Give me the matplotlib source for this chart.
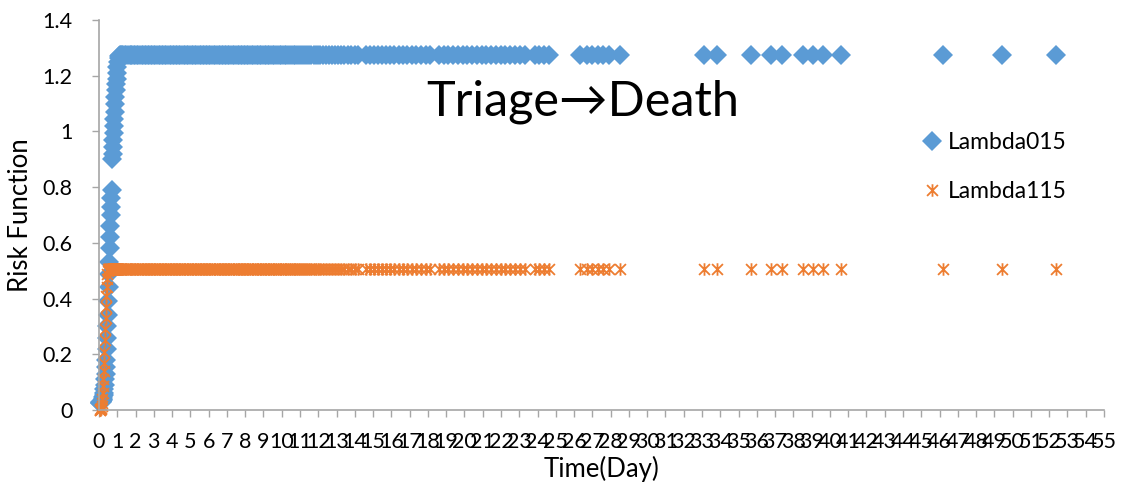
import matplotlib
matplotlib.use("Agg")
import matplotlib.pyplot as plt
from matplotlib.path import Path

plt.rcParams["font.family"] = ["Lato", "DejaVu Sans"]

# Rising part of both curves (shared time points, days)
rise_time = [0.04, 0.06, 0.08, 0.10, 0.12, 0.14, 0.16, 0.18, 0.20, 0.22, 0.24,
             0.26, 0.28, 0.30, 0.32, 0.34, 0.36, 0.38, 0.40, 0.42, 0.44, 0.46,
             0.48, 0.50, 0.52, 0.54, 0.56, 0.58, 0.60, 0.62, 0.64, 0.66, 0.68,
             0.70, 0.72, 0.74, 0.76, 0.78, 0.80, 0.82, 0.84, 0.86, 0.88, 0.90,
             0.92, 0.94, 0.96, 0.98, 1.00, 1.04, 1.08, 1.12, 1.16, 1.20]
rise_lambda015 = [0.025, 0.026, 0.027, 0.028, 0.029, 0.03, 0.032, 0.034, 0.037,
                  0.041, 0.046, 0.053, 0.062, 0.075, 0.09, 0.11, 0.13, 0.155,
                  0.18, 0.22, 0.26, 0.3, 0.34, 0.39, 0.44, 0.49, 0.53, 0.58,
                  0.62, 0.66, 0.7, 0.73, 0.76, 0.79, 0.9, 0.92, 0.945, 0.97,
                  0.995, 1.02, 1.045, 1.07, 1.1, 1.125, 1.15, 1.17, 1.19, 1.21,
                  1.23, 1.25, 1.262, 1.27, 1.274, 1.275]
rise_lambda115 = [0.0, 0.0, 0.003, 0.005, 0.008, 0.015, 0.025, 0.04, 0.06, 0.085,
                  0.11, 0.14, 0.17, 0.21, 0.25, 0.29, 0.33, 0.37, 0.41, 0.44,
                  0.47, 0.49, 0.5, 0.505, 0.505, 0.505, 0.505, 0.505, 0.505,
                  0.505, 0.505, 0.505, 0.505, 0.505, 0.505, 0.505, 0.505, 0.505,
                  0.505, 0.505, 0.505, 0.505, 0.505, 0.505, 0.505, 0.505, 0.505,
                  0.505, 0.505, 0.505, 0.505, 0.505, 0.505, 0.505]

# Event times after both curves have levelled off
plateau_time = [1.26, 1.33, 1.41, 1.5, 1.58, 1.67, 1.75, 1.82, 1.9, 1.99, 2.08,
                2.16, 2.25, 2.33, 2.41, 2.5, 2.59, 2.67, 2.74, 2.83, 2.92, 3.0,
                3.09, 3.17, 3.26, 3.35, 3.43, 3.52, 3.6, 3.68, 3.77, 3.86, 3.94,
                4.03, 4.12, 4.2, 4.29, 4.37, 4.46, 4.55, 4.63, 4.72, 4.8, 4.89,
                4.98, 5.07, 5.15, 5.24, 5.33, 5.41, 5.5, 5.58, 5.67, 5.76, 5.85,
                5.93, 6.02, 6.1, 6.19, 6.28, 6.36, 6.45, 6.54, 6.62, 6.71, 6.8,
                6.88, 6.97, 7.06, 7.14, 7.23, 7.32, 7.4, 7.49, 7.58, 7.66, 7.75,
                7.84, 7.92, 8.01, 8.1, 8.18, 8.27, 8.36, 8.45, 8.53, 8.62, 8.71,
                8.8, 8.88, 8.97, 9.06, 9.15, 9.24, 9.33, 9.42, 9.51, 9.6, 9.7,
                9.79, 9.88, 9.97, 10.07, 10.16, 10.26, 10.36, 10.45, 10.55,
                10.65, 10.75, 10.85, 10.95, 11.06, 11.17, 11.28, 11.39, 11.5,
                11.62, 11.74, 11.86, 11.98, 12.12, 12.27, 12.42, 12.58, 12.74,
                12.9, 13.07, 13.25, 13.43, 13.62, 13.81, 14.0, 14.2, 14.62,
                14.83, 15.04, 15.26, 15.48, 15.7, 15.93, 16.16, 16.4, 16.64,
                16.88, 17.12, 17.37, 17.62, 17.87, 18.12, 18.6, 18.86, 19.12,
                19.38, 19.64, 19.9, 20.16, 20.42, 20.68, 20.94, 21.2, 21.46,
                21.72, 21.98, 22.24, 22.5, 22.76, 23.02, 23.3, 23.85, 24.1,
                24.35, 24.65,
                26.3, 26.7, 27.0, 27.3, 27.6, 27.9, 28.5,
                33.1, 33.8, 35.7, 36.8, 37.4, 38.5, 39.1, 39.6, 40.6,
                46.2, 49.4, 52.4]
plateau_lambda015 = 1.275
plateau_lambda115 = 0.505

x_ticks = list(range(0, 56))
y_ticks = [0, 0.2, 0.4, 0.6, 0.8, 1.0, 1.2, 1.4]
y_tick_labels = ["0", "0.2", "0.4", "0.6", "0.8", "1", "1.2", "1.4"]

time = rise_time + plateau_time
lambda015 = rise_lambda015 + [plateau_lambda015] * len(plateau_time)
lambda115 = rise_lambda115 + [plateau_lambda115] * len(plateau_time)

# Excel style "star" marker: an X with a vertical bar
star = Path([(-1, -1), (1, 1), (-1, 1), (1, -1), (0, -1.15), (0, 1.15)],
            [Path.MOVETO, Path.LINETO, Path.MOVETO, Path.LINETO,
             Path.MOVETO, Path.LINETO])

W, H = 1136, 493
fig = plt.figure(figsize=(W / 100, H / 100), dpi=100)
ax = fig.add_axes([99 / W, (H - 410) / H, (1104 - 99) / W, 390 / H])

blue = "#5B9BD5"
orange = "#ED7D31"
axis_grey = "#A6A6A6"

ax.plot(time, lambda015, linestyle="none", marker="D", markersize=10,
        color=blue, markeredgewidth=0, label="Lambda015", clip_on=False)
ax.plot(time, lambda115, linestyle="none", marker=star, markersize=9,
        color=orange, markeredgewidth=1.3, markerfacecolor="none",
        label="Lambda115", clip_on=False)

ax.set_xlim(0, 55)
ax.set_ylim(0, 1.4)
ax.set_xticks(x_ticks)
ax.set_xticklabels([str(v) for v in x_ticks])
ax.set_yticks(y_ticks)
ax.set_yticklabels(y_tick_labels)

for side in ["top", "right"]:
    ax.spines[side].set_visible(False)
for side in ["left", "bottom"]:
    ax.spines[side].set_color(axis_grey)
    ax.spines[side].set_linewidth(1.2)

ax.tick_params(axis="both", direction="out", length=5, width=1,
               color=axis_grey, labelsize=15.5, labelcolor="black")
ax.tick_params(axis="x", pad=11)
ax.tick_params(axis="y", pad=14)

ax.set_xlabel("Time(Day)", fontsize=18.5, labelpad=3)
ax.set_ylabel("Risk Function", fontsize=18.5, labelpad=7)

fig.text(583 / W, 1 - 102 / H, "Triage\u2192Death", ha="center", va="center",
         fontsize=35, family=["Lato", "DejaVu Sans"])

ax.legend(loc="center left", bbox_to_anchor=(922 / W, 1 - 167 / H),
          bbox_transform=fig.transFigure, frameon=False, fontsize=16.5,
          labelspacing=1.25, handlelength=0.9, handletextpad=0.25,
          borderpad=0, borderaxespad=0)

fig.savefig("out.png", dpi=100)
